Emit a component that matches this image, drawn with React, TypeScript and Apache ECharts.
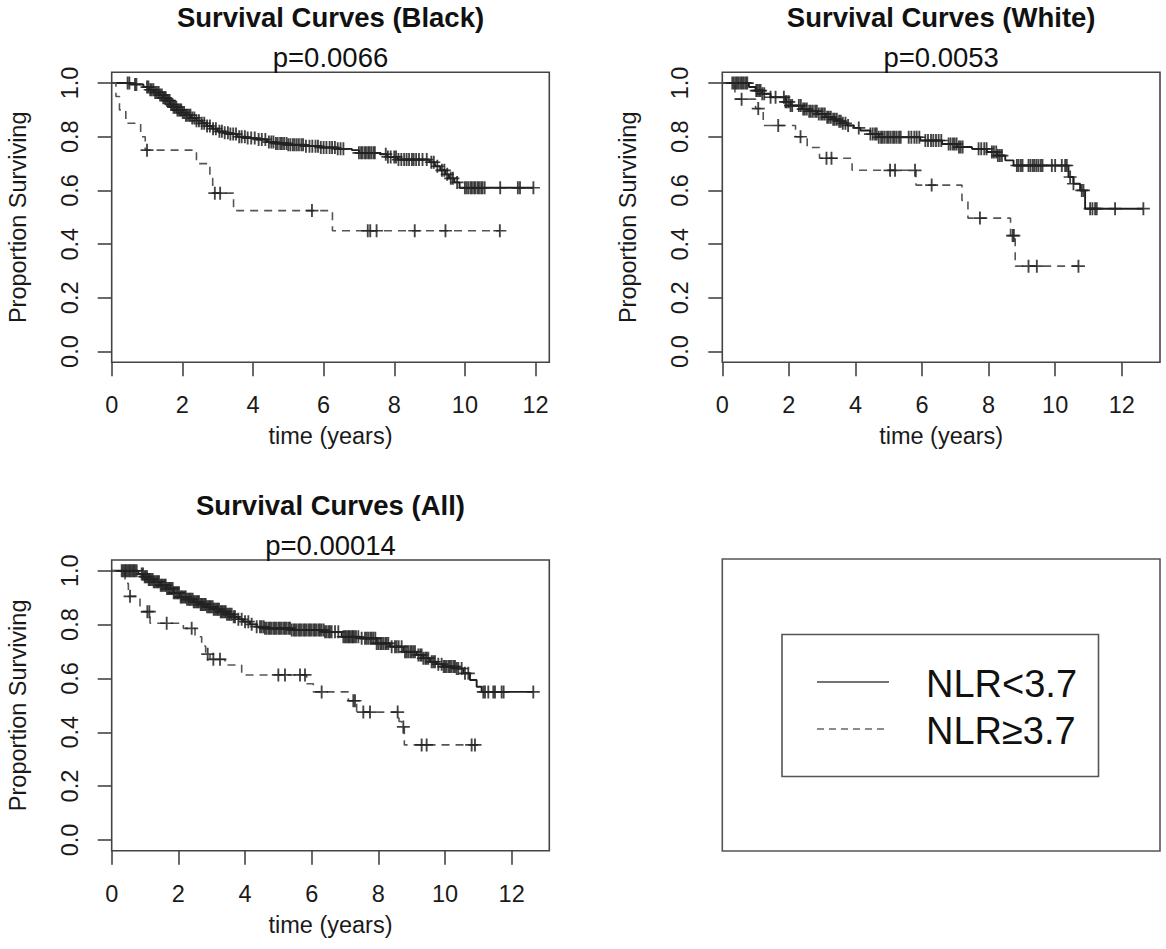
import React, { useEffect, useRef } from "react";
import * as echarts from "echarts";

// ---------- texts & ticks ----------
const X_TICKS = [0, 2, 4, 6, 8, 10, 12];
const Y_TICKS = [0, 0.2, 0.4, 0.6, 0.8, 1.0];
const TITLES = ["Survival Curves (Black)", "Survival Curves (White)", "Survival Curves (All)"];
const P_VALUES = ["p=0.0066", "p=0.0053", "p=0.00014"];
const GROUPS = ["NLR<3.7", "NLR\u22653.7"];
const X_AXIS_NAME = "time (years)";
const Y_AXIS_NAME = "Proportion Surviving";
const X_MAX = [12.39, 13.15, 13.13];

// ---------- Black: NLR<3.7 ----------
const BLACK_LO_T = [0, 0.55, 0.9, 1.05, 1.2, 1.35, 1.45, 1.55, 1.65, 1.75, 1.85, 2.0, 2.1, 2.25, 2.4, 2.55, 2.7, 2.85, 3.0, 3.15, 3.35, 3.55, 3.8, 4.1, 4.4, 4.65, 5.0, 5.5, 5.9, 6.4, 6.8, 7.0, 7.6, 7.8, 8.1, 9.0, 9.15, 9.3, 9.45, 9.55, 9.7, 9.85];
const BLACK_LO_S = [1.0, 0.995, 0.985, 0.975, 0.965, 0.955, 0.945, 0.935, 0.92, 0.91, 0.9, 0.89, 0.88, 0.87, 0.86, 0.85, 0.84, 0.83, 0.82, 0.815, 0.81, 0.8, 0.795, 0.79, 0.78, 0.775, 0.77, 0.765, 0.76, 0.755, 0.75, 0.74, 0.735, 0.725, 0.715, 0.705, 0.69, 0.675, 0.66, 0.645, 0.63, 0.61];
const BLACK_LO_END = 11.94;
const BLACK_LO_CENS = [0.45, 0.5, 0.66, 0.7, 1.0, 1.04, 1.09, 1.13, 1.18, 1.23, 1.28, 1.33, 1.37, 1.42, 1.46, 1.5, 1.53, 1.57, 1.61, 1.64, 1.68, 1.72, 1.75, 1.79, 1.83, 1.86, 1.9, 1.94, 1.97, 2.01, 2.05, 2.1, 2.14, 2.19, 2.23, 2.28, 2.34, 2.4, 2.47, 2.55, 2.62, 2.7, 2.78, 2.87, 2.95, 3.05, 3.12, 3.2, 3.29, 3.36, 3.44, 3.52, 3.61, 3.68, 3.77, 3.85, 3.95, 4.05, 4.16, 4.25, 4.35, 4.45, 4.52, 4.58, 4.65, 4.7, 4.77, 4.82, 4.88, 4.95, 5.0, 5.06, 5.13, 5.18, 5.24, 5.3, 5.37, 5.42, 5.5, 5.6, 5.68, 5.77, 5.84, 5.92, 6.0, 6.08, 6.17, 6.24, 6.32, 6.4, 6.48, 6.56, 7.0, 7.06, 7.1, 7.16, 7.2, 7.26, 7.3, 7.35, 7.41, 7.45, 7.76, 7.82, 7.9, 8.0, 8.05, 8.12, 8.2, 8.28, 8.35, 8.42, 8.5, 8.55, 8.62, 8.7, 8.8, 8.92, 9.05, 9.12, 9.22, 9.35, 9.42, 9.5, 9.6, 9.66, 9.78, 10.0, 10.05, 10.1, 10.16, 10.2, 10.26, 10.3, 10.36, 10.4, 10.46, 10.5, 10.56, 11.0, 11.5, 11.56, 11.94];

// ---------- Black: NLR>=3.7 ----------
const BLACK_HI_T = [0, 0.12, 0.22, 0.4, 0.82, 0.95, 2.4, 2.78, 2.86, 3.45, 6.25];
const BLACK_HI_S = [1.0, 0.95, 0.9, 0.85, 0.8, 0.75, 0.7, 0.645, 0.59, 0.525, 0.45];
const BLACK_HI_END = 10.99;
const BLACK_HI_CENS = [1.0, 2.92, 3.07, 5.67, 7.25, 7.32, 7.5, 8.58, 9.45, 10.99];

// ---------- White: NLR<3.7 ----------
const WHITE_LO_T = [0, 0.8, 1.0, 1.2, 1.45, 1.9, 2.05, 2.4, 2.6, 2.85, 3.1, 3.3, 3.45, 3.6, 3.75, 3.95, 4.15, 4.45, 4.7, 5.95, 6.6, 7.05, 7.5, 7.95, 8.25, 8.5, 8.75, 10.4, 10.55, 10.75, 10.9];
const WHITE_LO_S = [1.0, 0.985, 0.972, 0.96, 0.947, 0.93, 0.916, 0.903, 0.895, 0.885, 0.873, 0.865, 0.858, 0.85, 0.842, 0.833, 0.823, 0.81, 0.798, 0.786, 0.773, 0.762, 0.755, 0.743, 0.73, 0.712, 0.693, 0.65, 0.625, 0.6, 0.532];
const WHITE_LO_END = 12.65;
const WHITE_LO_CENS = [0.3, 0.35, 0.41, 0.45, 0.5, 0.56, 0.6, 0.65, 0.71, 0.75, 1.02, 1.06, 1.11, 1.15, 1.2, 1.26, 1.45, 1.6, 1.85, 1.9, 1.94, 2.0, 2.05, 2.1, 2.3, 2.36, 2.43, 2.48, 2.54, 2.61, 2.66, 2.72, 2.79, 2.84, 2.9, 2.97, 3.02, 3.08, 3.15, 3.2, 3.26, 3.33, 3.38, 3.44, 3.51, 3.56, 3.62, 3.7, 3.78, 4.1, 4.45, 4.52, 4.59, 4.64, 4.7, 4.77, 4.82, 4.88, 4.95, 5.0, 5.06, 5.13, 5.18, 5.24, 5.31, 5.36, 5.6, 5.68, 5.77, 5.84, 5.92, 6.1, 6.18, 6.27, 6.34, 6.42, 6.5, 6.58, 6.8, 6.86, 6.93, 6.98, 7.04, 7.11, 7.16, 7.22, 7.7, 7.78, 7.87, 7.94, 8.1, 8.16, 8.23, 8.28, 8.34, 8.4, 8.85, 8.9, 8.97, 9.02, 9.2, 9.26, 9.33, 9.38, 9.44, 9.5, 9.57, 9.62, 9.9, 10.0, 10.2, 10.3, 10.35, 10.45, 10.55, 10.8, 10.85, 11.05, 11.12, 11.2, 11.25, 11.8, 12.65];

// ---------- White: NLR>=3.7 ----------
const WHITE_HI_T = [0, 0.38, 1.0, 1.23, 2.2, 2.55, 2.92, 3.9, 5.82, 7.2, 7.38, 8.66, 8.8];
const WHITE_HI_S = [1.0, 0.94, 0.905, 0.842, 0.8, 0.76, 0.72, 0.675, 0.62, 0.563, 0.497, 0.432, 0.318];
const WHITE_HI_END = 10.7;
const WHITE_HI_CENS = [0.58, 1.08, 1.68, 2.35, 3.13, 3.28, 5.04, 5.19, 5.79, 6.29, 7.74, 8.72, 8.76, 9.2, 9.45, 10.7];

// ---------- All: NLR<3.7 ----------
const ALL_LO_T = [0, 0.8, 0.95, 1.1, 1.25, 1.45, 1.65, 1.85, 2.05, 2.25, 2.45, 2.65, 2.85, 3.05, 3.25, 3.45, 3.65, 3.8, 3.95, 4.15, 4.35, 4.6, 5.4, 6.4, 6.9, 7.45, 7.95, 8.35, 8.75, 9.15, 9.35, 9.55, 9.75, 9.95, 10.35, 10.55, 10.75, 10.95, 11.1];
const ALL_LO_S = [1.0, 0.988, 0.978, 0.968, 0.959, 0.946, 0.934, 0.918, 0.903, 0.894, 0.885, 0.875, 0.866, 0.857, 0.848, 0.838, 0.829, 0.82, 0.811, 0.801, 0.792, 0.786, 0.78, 0.773, 0.755, 0.749, 0.73, 0.718, 0.699, 0.687, 0.675, 0.662, 0.653, 0.644, 0.637, 0.619, 0.594, 0.569, 0.55];
const ALL_LO_END = 12.65;
const ALL_LO_CENS = [0.3, 0.34, 0.39, 0.42, 0.46, 0.51, 0.54, 0.58, 0.63, 0.66, 0.7, 0.75, 0.9, 0.94, 0.99, 1.02, 1.06, 1.11, 1.14, 1.18, 1.23, 1.26, 1.3, 1.35, 1.38, 1.42, 1.47, 1.5, 1.54, 1.59, 1.62, 1.66, 1.71, 1.74, 1.78, 1.83, 1.86, 1.9, 1.95, 1.98, 2.02, 2.07, 2.1, 2.14, 2.19, 2.22, 2.26, 2.31, 2.34, 2.38, 2.43, 2.46, 2.5, 2.55, 2.58, 2.62, 2.67, 2.7, 2.74, 2.79, 2.82, 2.86, 2.91, 2.94, 2.98, 3.03, 3.06, 3.1, 3.15, 3.18, 3.22, 3.27, 3.3, 3.34, 3.39, 3.42, 3.46, 3.51, 3.55, 3.6, 3.66, 3.7, 3.8, 3.9, 4.0, 4.1, 4.2, 4.35, 4.45, 4.5, 4.56, 4.6, 4.65, 4.71, 4.75, 4.8, 4.86, 4.9, 4.95, 5.01, 5.05, 5.1, 5.16, 5.2, 5.25, 5.31, 5.35, 5.4, 5.46, 5.5, 5.55, 5.61, 5.65, 5.7, 5.76, 5.8, 5.85, 5.91, 5.95, 6.0, 6.06, 6.1, 6.15, 6.21, 6.25, 6.3, 6.36, 6.4, 6.45, 6.51, 6.55, 6.6, 6.7, 6.8, 6.95, 7.0, 7.04, 7.09, 7.12, 7.16, 7.21, 7.24, 7.28, 7.33, 7.4, 7.5, 7.6, 7.65, 7.7, 7.76, 7.8, 7.85, 7.91, 7.95, 8.0, 8.06, 8.1, 8.15, 8.21, 8.25, 8.3, 8.4, 8.5, 8.55, 8.61, 8.7, 8.8, 8.85, 8.9, 8.96, 9.0, 9.05, 9.1, 9.2, 9.26, 9.3, 9.35, 9.41, 9.45, 9.5, 9.6, 9.65, 9.7, 9.8, 9.9, 9.96, 10.0, 10.05, 10.11, 10.15, 10.2, 10.26, 10.3, 10.35, 10.4, 10.5, 10.6, 10.7, 11.15, 11.2, 11.3, 11.45, 11.5, 11.7, 11.76, 12.65];

// ---------- All: NLR>=3.7 ----------
const ALL_HI_T = [0, 0.4, 0.5, 0.85, 1.15, 2.15, 2.5, 2.7, 2.82, 2.95, 3.4, 3.9, 5.85, 6.05, 7.1, 7.35, 8.62, 8.7, 8.78];
const ALL_HI_S = [1.0, 0.953, 0.905, 0.848, 0.805, 0.786, 0.755, 0.72, 0.69, 0.671, 0.65, 0.613, 0.58, 0.55, 0.517, 0.475, 0.44, 0.42, 0.353];
const ALL_HI_END = 10.9;
const ALL_HI_CENS = [0.55, 1.07, 1.13, 1.65, 2.4, 2.88, 3.05, 3.25, 5.0, 5.2, 5.65, 5.8, 6.3, 7.25, 7.3, 7.55, 7.75, 8.58, 8.75, 9.3, 9.45, 10.8, 10.9];

// ---------- layout (styles only) ----------
const FONT = "'Liberation Sans', Arial, Helvetica, sans-serif";
const TEXT = "#1a1a1a";
const FRAME = "#444";
const GRIDS = [
  { left: 111.7, top: 72.3, width: 437.6, height: 290 },
  { left: 722.3, top: 72.3, width: 437.7, height: 290 },
  { left: 111.7, top: 560, width: 437.6, height: 290.7 },
];
const CROSS = "path://M6,0h2v14h-2zM0,6.1h14v1.8h-14z";

type Curve = { t: number[]; s: number[]; end: number; cens: number[] };
const PANELS: Curve[][] = [
  [
    { t: BLACK_LO_T, s: BLACK_LO_S, end: BLACK_LO_END, cens: BLACK_LO_CENS },
    { t: BLACK_HI_T, s: BLACK_HI_S, end: BLACK_HI_END, cens: BLACK_HI_CENS },
  ],
  [
    { t: WHITE_LO_T, s: WHITE_LO_S, end: WHITE_LO_END, cens: WHITE_LO_CENS },
    { t: WHITE_HI_T, s: WHITE_HI_S, end: WHITE_HI_END, cens: WHITE_HI_CENS },
  ],
  [
    { t: ALL_LO_T, s: ALL_LO_S, end: ALL_LO_END, cens: ALL_LO_CENS },
    { t: ALL_HI_T, s: ALL_HI_S, end: ALL_HI_END, cens: ALL_HI_CENS },
  ],
];

function stepData(c: Curve): number[][] {
  const pts = c.t.map((t, i) => [t, c.s[i]]);
  pts.push([c.end, c.s[c.s.length - 1]]);
  return pts;
}
function survAt(c: Curve, x: number): number {
  let v = c.s[0];
  for (let i = 0; i < c.t.length; i++) if (c.t[i] <= x) v = c.s[i];
  return v;
}

function buildOption() {
  const grid: any[] = [];
  const xAxis: any[] = [];
  const yAxis: any[] = [];
  const series: any[] = [];
  const graphic: any[] = [];

  GRIDS.forEach((g, gi) => {
    grid.push({ ...g, show: true, borderColor: FRAME, borderWidth: 1.6, backgroundColor: "transparent" });
    xAxis.push({
      type: "value",
      gridIndex: gi,
      min: 0,
      max: X_MAX[gi],
      axisLine: { show: false, onZero: false },
      splitLine: { show: false },
      axisTick: { show: true, inside: false, length: 14, customValues: X_TICKS, lineStyle: { color: FRAME, width: 1.6 } },
      axisLabel: { customValues: X_TICKS, fontSize: 23.5, fontFamily: FONT, color: TEXT, margin: 31 },
      name: X_AXIS_NAME,
      nameLocation: "middle",
      nameGap: 62,
      nameTextStyle: { fontSize: 23.5, fontFamily: FONT, color: TEXT },
    });
    yAxis.push({
      type: "value",
      gridIndex: gi,
      min: -0.04,
      max: 1.04,
      axisLine: { show: false, onZero: false },
      splitLine: { show: false },
      axisTick: { show: true, inside: false, length: 14, customValues: Y_TICKS, lineStyle: { color: FRAME, width: 1.6 } },
      axisLabel: {
        customValues: Y_TICKS,
        rotate: 90,
        fontSize: 23.5,
        fontFamily: FONT,
        color: TEXT,
        margin: 30,
        formatter: (v: number) => v.toFixed(1),
      },
      name: Y_AXIS_NAME,
      nameLocation: "middle",
      nameGap: 82,
      nameTextStyle: { fontSize: 23.5, fontFamily: FONT, color: TEXT },
    });

    PANELS[gi].forEach((c, ci) => {
      series.push({
        type: "line",
        name: GROUPS[ci],
        xAxisIndex: gi,
        yAxisIndex: gi,
        step: "end",
        symbol: "none",
        showSymbol: false,
        data: stepData(c),
        lineStyle: ci === 0 ? { color: "#1e1e1e", width: 1.9, type: "solid" } : { color: "#555", width: 1.6, type: [8, 6] },
        z: 3,
      });
      series.push({
        type: "scatter",
        name: GROUPS[ci] + " censored",
        xAxisIndex: gi,
        yAxisIndex: gi,
        symbol: CROSS,
        symbolSize: 13,
        data: c.cens.map((x) => [x, survAt(c, x)]),
        itemStyle: { color: "#222", opacity: 0.85 },
        z: 4,
      });
    });

    const cx = g.left + g.width / 2;
    graphic.push({
      type: "text",
      x: cx,
      y: g.top - 55,
      style: { text: TITLES[gi], fill: "#111", fontSize: 27.5, fontWeight: "bold", fontFamily: FONT, align: "center", verticalAlign: "middle" },
    });
    graphic.push({
      type: "text",
      x: cx,
      y: g.top - 15,
      style: { text: P_VALUES[gi], fill: "#111", fontSize: 27.5, fontFamily: FONT, align: "center", verticalAlign: "middle" },
    });
  });

  // legend panel
  graphic.push({ type: "rect", shape: { x: 722.3, y: 559, width: 437.7, height: 292 }, style: { fill: "none", stroke: "#555", lineWidth: 1.6 } });
  graphic.push({ type: "rect", shape: { x: 782, y: 634.5, width: 316.5, height: 142 }, style: { fill: "none", stroke: "#555", lineWidth: 1.6 } });
  graphic.push({ type: "line", shape: { x1: 817, y1: 682, x2: 889, y2: 682 }, style: { stroke: "#444", lineWidth: 1.6 } });
  graphic.push({ type: "line", shape: { x1: 817, y1: 729, x2: 889, y2: 729 }, style: { stroke: "#666", lineWidth: 1.5, lineDash: [7, 5] } });
  graphic.push({
    type: "text",
    x: 926,
    y: 684,
    style: { text: GROUPS[0], fill: "#111", fontSize: 38, fontFamily: FONT, align: "left", verticalAlign: "middle" },
  });
  graphic.push({
    type: "text",
    x: 926,
    y: 731,
    style: { text: GROUPS[1], fill: "#111", fontSize: 38, fontFamily: FONT, align: "left", verticalAlign: "middle" },
  });

  return {
    animation: false,
    backgroundColor: "#fff",
    grid,
    xAxis,
    yAxis,
    series,
    graphic,
  };
}

export default function App() {
  const ref = useRef<HTMLDivElement>(null);
  useEffect(() => {
    if (!ref.current) return;
    const chart = echarts.init(ref.current, null, { renderer: "svg" });
    chart.setOption(buildOption() as any);
    return () => chart.dispose();
  }, []);
  return <div ref={ref} style={{ position: "absolute", left: 0, top: 0, width: 1166, height: 949 }} />;
}
